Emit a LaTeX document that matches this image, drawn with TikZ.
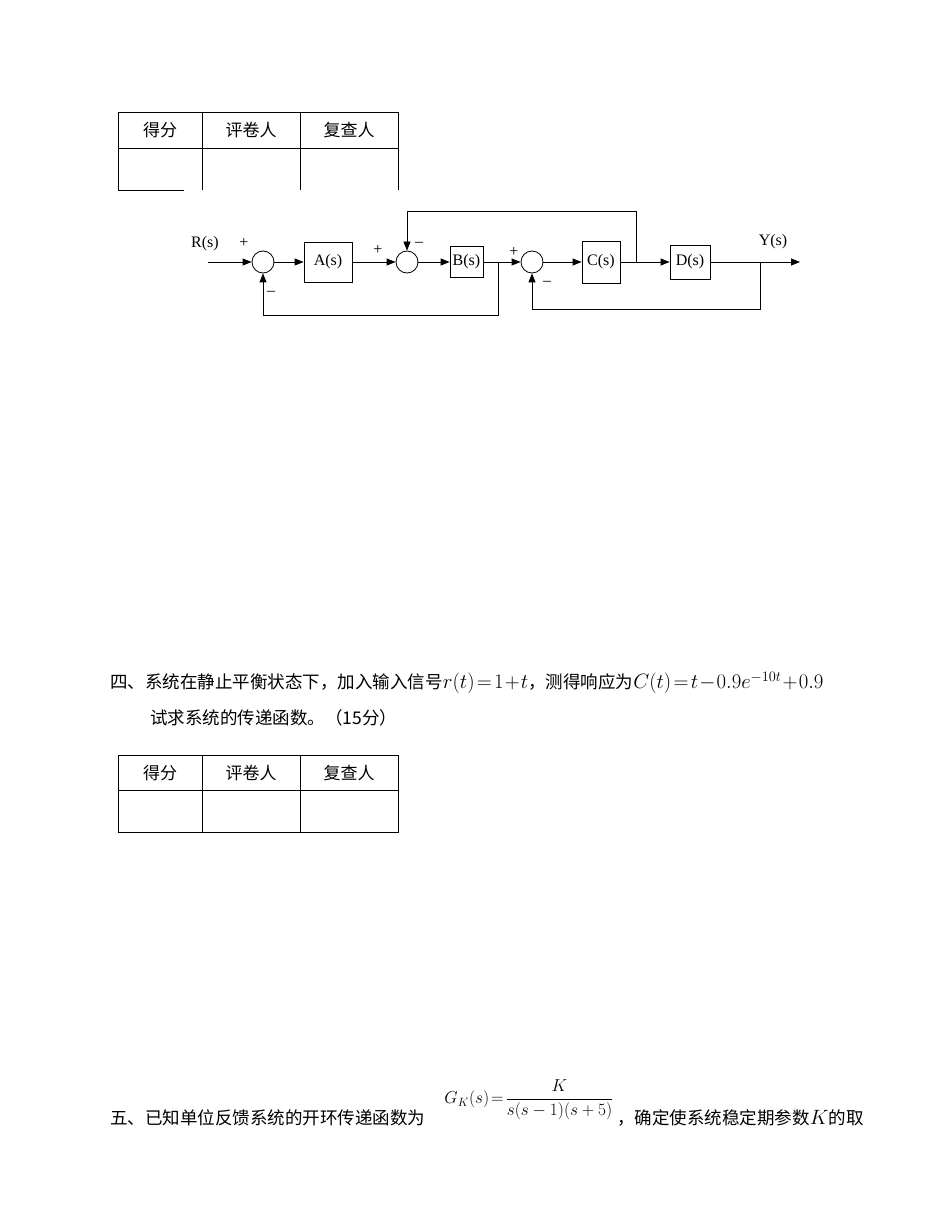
\documentclass[tikz,border=0pt]{standalone}
\usepackage{fontspec}
\setmainfont{Noto Sans CJK SC}
\newfontfamily\serif{Liberation Serif}
\usetikzlibrary{arrows.meta}
\begin{document}
\begin{tikzpicture}[x=1pt,y=-1pt,line width=0.8pt,
  blk/.style={draw,minimum width=#1,inner sep=0pt,font=\serif\fontsize{16}{16}\selectfont},
  sumj/.style={draw,circle,minimum size=22pt,inner sep=0pt},
  sig/.style={-{Triangle[length=9pt,width=7pt]}},
  lbl/.style={font=\serif\fontsize{16}{16}\selectfont,inner sep=0pt},
  txt/.style={font=\fontsize{17.5}{17.5}\selectfont,inner sep=0pt,anchor=west},
  cell/.style={font=\fontsize{17}{17}\selectfont,inner sep=0pt}]
\useasboundingbox[fill=white] (0,0) rectangle (950,1230);
% table 1
\draw (118,112) -- (398,112) (118,148) -- (398,148) (118,190) -- (184,190);
\foreach \x in {118,202,300,398} \draw (\x,112) -- (\x,190);
\node[cell] (t1a) at (160,130) {得分};
\node[cell] (t1b) at (251,130) {评卷人};
\node[cell] (t1c) at (349,130) {复查人};
% block diagram
\coordinate (in) at (208,262);
\node[sumj] (s1) at (263,262) {};
\node[blk=48pt,minimum height=40pt] (A) at (328,262) {A(s)};
\node[sumj] (s2) at (407,262) {};
\node[blk=33pt,minimum height=31pt] (B) at (466.5,262) {B(s)};
\node[sumj] (s3) at (532,262) {};
\node[blk=38pt,minimum height=42pt] (C) at (601,262) {C(s)};
\node[blk=40pt,minimum height=34pt] (D) at (690,262) {D(s)};
\coordinate (out) at (800,262);
\coordinate (bB) at (498,262);
\coordinate (bC) at (636,262);
\coordinate (bD) at (760,262);
\draw[sig] (in) -- (s1.west);
\draw[sig] (s1.east) -- (A.west);
\draw[sig] (A.east) -- (s2.west);
\draw[sig] (s2.east) -- (B.west);
\draw[sig] (B.east) -- (s3.west);
\draw[sig] (s3.east) -- (C.west);
\draw[sig] (C.east) -- (D.west);
\draw[sig] (D.east) -- (out);
\draw[sig] (bB) -- (498,315) -- (263,315) -- (s1.south);
\draw[sig] (bC) -- (636,211) -- (407,211) -- (s2.north);
\draw[sig] (bD) -- (760,309) -- (532,309) -- (s3.south);
\node[lbl] (lR) at (205,244) {R(s)};
\node[lbl] (lY) at (773,242) {Y(s)};
\node[lbl] (p1) at (244,243) {+};
\node[lbl] (m1) at (271,293) {–};
\node[lbl] (p2) at (378,250) {+};
\node[lbl] (m2) at (419,244) {–};
\node[lbl] (p3) at (514,252) {+};
\node[lbl] (m3) at (547,283) {–};
% text
\node[txt] (q4) at (110,683) {四、系统在静止平衡状态下，加入输入信号{\fontsize{21}{21}\selectfont$r\big(t\big)\!=\!1\!+\!t$}，测得响应为{\fontsize{21}{21}\selectfont$C\big(t\big)\!=\!t\!-\!0.9e^{-10t}\!+\!0.9$}};
\node[txt] (q4b) at (150,718) {试求系统的传递函数。（15分）};
% table 2
\draw (118,755) rectangle (398,832) (118,790) -- (398,790);
\foreach \x in {202,300} \draw (\x,755) -- (\x,832);
\node[cell] (t2a) at (160,773) {得分};
\node[cell] (t2b) at (251,773) {评卷人};
\node[cell] (t2c) at (349,773) {复查人};
% question 5
\node[txt] (q5) at (110,1118) {五、已知单位反馈系统的开环传递函数为};
\node[inner sep=0pt,anchor=west,font=\fontsize{18}{18}\selectfont] (gk) at (444,1100) {$\displaystyle G_K(s)\!=\!\frac{K}{s(s-1)(s+5)}$};
\node[txt] (q5b) at (617,1118) {，确定使系统稳定期参数{\fontsize{21}{21}\selectfont$K$}的取};
\end{tikzpicture}
\end{document}
